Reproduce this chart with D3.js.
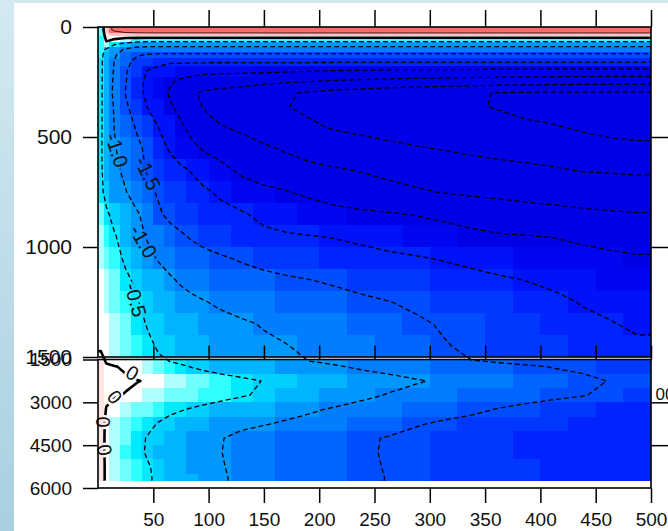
<!DOCTYPE html>
<html>
<head>
<meta charset="utf-8">
<script src="https://cdn.jsdelivr.net/npm/d3@7"></script>
<style>
body { margin: 0; background: #fff; }
svg { display: block; font-family: "Liberation Sans", Arial, sans-serif; }
</style>
</head>
<body>
<svg id="chart" width="668" height="531"></svg>
<script>
// grid of the section: cell edges along x and depth (m)
var xEdges = [0,5,10,20,30,40,50,60,70,80,90,100,120,140,160,180,200,225,250,275,300,325,350,375,400,425,450,475,500];
var depthEdges = [0,25,40,55,70,90,115,140,175,225,275,325,400,500,600,700,800,900,1000,1100,1200,1300,1400,1500,
                  2000,2500,3000,3500,4000,4500,5000,5500,5750];

// streamfunction per cell, one row per depth level
var psi = [
 [-0.3,0.3,0.6,0.8,0.85,0.88,0.9,0.9,0.9,0.9,0.9,0.9,0.9,0.92,0.92,0.92,0.92,0.92,0.92,0.92,0.92,0.92,0.92,0.92,0.92,0.92,0.92,0.92],
 [-0.3,0.18,0.28,0.33,0.35,0.35,0.35,0.35,0.35,0.35,0.35,0.35,0.35,0.35,0.35,0.35,0.35,0.35,0.35,0.35,0.35,0.35,0.35,0.35,0.35,0.35,0.35,0.35],
 [-0.35,0.1,0.05,0.04,0.05,0.05,0.05,0.05,0.05,0.05,0.05,0.05,0.05,0.05,0.05,0.05,0.05,0.05,0.05,0.05,0.05,0.05,0.05,0.05,0.05,0.05,0.05,0.05],
 [-0.4,0.02,-0.05,-0.2,-0.35,-0.4,-0.4,-0.4,-0.4,-0.4,-0.4,-0.4,-0.4,-0.4,-0.4,-0.4,-0.4,-0.4,-0.4,-0.4,-0.4,-0.4,-0.4,-0.4,-0.4,-0.4,-0.4,-0.4],
 [-0.4,-0.2,-0.5,-0.72,-0.85,-0.85,-0.85,-0.85,-0.85,-0.85,-0.85,-0.85,-0.85,-0.85,-0.85,-0.85,-0.85,-0.85,-0.85,-0.85,-0.85,-0.85,-0.85,-0.85,-0.85,-0.85,-0.85,-0.85],
 [-0.4,-0.55,-0.85,-1.05,-1.15,-1.2,-1.2,-1.2,-1.2,-1.2,-1.2,-1.2,-1.2,-1.2,-1.2,-1.2,-1.2,-1.2,-1.2,-1.2,-1.2,-1.2,-1.2,-1.2,-1.2,-1.2,-1.2,-1.2],
 [-0.4,-0.65,-0.95,-1.25,-1.45,-1.55,-1.6,-1.6,-1.6,-1.6,-1.6,-1.6,-1.6,-1.6,-1.6,-1.6,-1.6,-1.6,-1.6,-1.6,-1.6,-1.6,-1.6,-1.6,-1.6,-1.6,-1.6,-1.6],
 [-0.42,-0.7,-1.02,-1.35,-1.65,-1.8,-1.9,-1.95,-1.95,-1.95,-1.95,-1.95,-1.95,-1.95,-1.95,-1.95,-1.95,-1.95,-1.95,-1.95,-1.95,-1.95,-1.95,-1.95,-1.95,-1.95,-1.95,-1.95],
 [-0.42,-0.72,-1.05,-1.45,-1.8,-2.02,-2.1,-2.2,-2.25,-2.3,-2.35,-2.38,-2.4,-2.42,-2.45,-2.48,-2.52,-2.55,-2.58,-2.6,-2.6,-2.62,-2.63,-2.64,-2.65,-2.65,-2.65,-2.65],
 [-0.42,-0.74,-1.08,-1.48,-1.85,-2.1,-2.3,-2.45,-2.6,-2.72,-2.8,-2.85,-2.88,-2.92,-2.97,-3.02,-3.08,-3.12,-3.16,-3.2,-3.23,-3.26,-3.28,-3.3,-3.32,-3.34,-3.35,-3.35],
 [-0.42,-0.75,-1.1,-1.52,-1.85,-2.1,-2.3,-2.55,-2.75,-2.95,-3.05,-3.1,-3.15,-3.3,-3.45,-3.55,-3.65,-3.72,-3.8,-3.85,-3.9,-3.95,-4.02,-4.05,-4.06,-4.07,-4.08,-4.08],
 [-0.43,-0.72,-1.05,-1.42,-1.75,-2.02,-2.2,-2.45,-2.62,-2.85,-3.02,-3.2,-3.3,-3.4,-3.48,-3.6,-3.7,-3.78,-3.85,-3.9,-3.94,-3.97,-4.02,-4.1,-4.18,-4.25,-4.3,-4.35],
 [-0.44,-0.7,-1.02,-1.3,-1.55,-1.8,-2.02,-2.2,-2.45,-2.65,-2.8,-2.98,-3.08,-3.2,-3.3,-3.42,-3.55,-3.62,-3.7,-3.76,-3.82,-3.87,-3.91,-3.95,-3.98,-4.08,-4.2,-4.3],
 [-0.45,-0.7,-0.97,-1.2,-1.4,-1.6,-1.85,-2.05,-2.25,-2.4,-2.55,-2.7,-2.85,-2.95,-3.05,-3.15,-3.25,-3.33,-3.4,-3.47,-3.53,-3.6,-3.65,-3.7,-3.74,-3.78,-3.82,-3.85],
 [-0.45,-0.65,-0.9,-1.1,-1.3,-1.55,-1.7,-1.82,-1.93,-2.03,-2.15,-2.35,-2.6,-2.72,-2.82,-2.9,-2.96,-3.02,-3.1,-3.18,-3.25,-3.3,-3.36,-3.4,-3.46,-3.52,-3.54,-3.56],
 [-0.42,-0.6,-0.82,-0.98,-1.2,-1.4,-1.55,-1.68,-1.78,-1.86,-1.94,-2.05,-2.25,-2.4,-2.48,-2.58,-2.7,-2.8,-2.88,-2.95,-3.02,-3.08,-3.13,-3.17,-3.2,-3.24,-3.27,-3.3],
 [-0.3,-0.45,-0.6,-0.8,-0.95,-1.15,-1.45,-1.6,-1.7,-1.78,-1.84,-1.9,-1.96,-2.1,-2.2,-2.28,-2.36,-2.42,-2.47,-2.52,-2.58,-2.65,-2.72,-2.8,-2.86,-2.91,-2.95,-2.98],
 [-0.2,-0.35,-0.48,-0.62,-0.85,-1.05,-1.2,-1.35,-1.45,-1.55,-1.63,-1.75,-1.85,-1.92,-1.96,-1.99,-2.02,-2.08,-2.18,-2.27,-2.35,-2.42,-2.47,-2.49,-2.52,-2.6,-2.68,-2.75],
 [-0.15,-0.28,-0.4,-0.55,-0.72,-0.88,-1.05,-1.15,-1.25,-1.32,-1.38,-1.45,-1.55,-1.65,-1.72,-1.78,-1.83,-1.88,-1.92,-1.97,-2.03,-2.1,-2.17,-2.23,-2.29,-2.35,-2.4,-2.45],
 [-0.1,-0.2,-0.3,-0.45,-0.55,-0.68,-0.8,-0.95,-1.05,-1.12,-1.18,-1.25,-1.32,-1.38,-1.44,-1.49,-1.55,-1.62,-1.7,-1.77,-1.83,-1.89,-1.95,-2.01,-2.08,-2.15,-2.22,-2.3],
 [-0.05,-0.12,-0.22,-0.35,-0.48,-0.58,-0.68,-0.78,-0.86,-0.93,-0.98,-1.05,-1.12,-1.18,-1.24,-1.3,-1.36,-1.43,-1.49,-1.56,-1.63,-1.7,-1.77,-1.84,-1.92,-2.02,-2.08,-2.15],
 [-0.03,-0.08,-0.18,-0.3,-0.42,-0.52,-0.6,-0.68,-0.75,-0.8,-0.85,-0.9,-0.96,-1.02,-1.08,-1.13,-1.2,-1.28,-1.36,-1.45,-1.53,-1.6,-1.68,-1.76,-1.84,-1.92,-1.98,-2.05],
 [-0.01,-0.05,-0.14,-0.25,-0.35,-0.45,-0.53,-0.6,-0.66,-0.72,-0.77,-0.83,-0.9,-0.95,-0.99,-1.05,-1.12,-1.2,-1.28,-1.38,-1.48,-1.55,-1.62,-1.7,-1.77,-1.84,-1.9,-1.95],
 [0.12,0.03,0.01,-0.03,-0.1,-0.18,-0.27,-0.36,-0.44,-0.52,-0.58,-0.65,-0.72,-0.78,-0.84,-0.9,-0.96,-1.05,-1.12,-1.2,-1.27,-1.33,-1.4,-1.45,-1.52,-1.57,-1.64,-1.7],
 [0.12,0.05,0.04,0.03,0.01,-0.02,-0.07,-0.12,-0.18,-0.23,-0.28,-0.35,-0.43,-0.51,-0.58,-0.65,-0.73,-0.82,-0.89,-0.97,-1.05,-1.13,-1.2,-1.28,-1.35,-1.42,-1.51,-1.6],
 [0.12,0.04,0.02,-0.01,-0.06,-0.11,-0.16,-0.21,-0.26,-0.3,-0.34,-0.4,-0.47,-0.55,-0.64,-0.72,-0.82,-0.92,-1.02,-1.1,-1.17,-1.24,-1.3,-1.36,-1.42,-1.48,-1.58,-1.7],
 [0.12,-0.01,-0.08,-0.15,-0.22,-0.3,-0.37,-0.43,-0.48,-0.53,-0.57,-0.63,-0.72,-0.8,-0.88,-0.95,-1.03,-1.12,-1.2,-1.28,-1.35,-1.42,-1.52,-1.6,-1.68,-1.75,-1.82,-1.85],
 [0.12,-0.05,-0.15,-0.25,-0.35,-0.43,-0.52,-0.6,-0.66,-0.72,-0.78,-0.85,-0.93,-0.98,-1.04,-1.1,-1.18,-1.27,-1.37,-1.47,-1.55,-1.62,-1.7,-1.75,-1.8,-1.84,-1.87,-1.9],
 [0.12,-0.06,-0.18,-0.3,-0.42,-0.52,-0.6,-0.68,-0.75,-0.82,-0.9,-0.98,-1.08,-1.16,-1.24,-1.3,-1.37,-1.45,-1.52,-1.6,-1.68,-1.75,-1.8,-1.84,-1.87,-1.89,-1.9,-1.9],
 [0.12,-0.06,-0.19,-0.31,-0.43,-0.53,-0.61,-0.69,-0.76,-0.83,-0.9,-0.99,-1.08,-1.15,-1.22,-1.29,-1.37,-1.45,-1.53,-1.6,-1.67,-1.73,-1.78,-1.82,-1.85,-1.87,-1.88,-1.88],
 [0.12,-0.05,-0.16,-0.28,-0.39,-0.48,-0.56,-0.65,-0.73,-0.81,-0.88,-0.98,-1.06,-1.14,-1.22,-1.29,-1.37,-1.44,-1.52,-1.58,-1.64,-1.7,-1.75,-1.79,-1.82,-1.84,-1.85,-1.86],
 [0.12,-0.05,-0.15,-0.27,-0.38,-0.47,-0.55,-0.64,-0.72,-0.8,-0.87,-0.97,-1.05,-1.13,-1.21,-1.28,-1.36,-1.44,-1.51,-1.57,-1.63,-1.69,-1.74,-1.78,-1.81,-1.83,-1.84,-1.85]
];

// shading levels and their colours
var shadeLevels = [-2.4,-2.2,-2.0,-1.8,-1.6,-1.4,-1.2,-1.0,-0.8,-0.6,-0.5,-0.4,-0.3,-0.2,-0.1,0.1,0.2,0.4,0.6];
var shadeColors = ["#0000e6","#0006f0","#0012fc","#0024ff","#0038ff","#004eff","#0066ff","#007eff","#0098ff","#00b4ff",
                   "#00d0ff","#00eaff","#30ffff","#70ffff","#b0ffff","#ffffff","#ffe4e4","#ffc4c4","#ff9a9a","#ff6a6a"];

var contourLevels = [-4, -3.5, -3, -2.5, -2, -1.5, -1, -0.5, 0, 0.5];
var xTicks = [50,100,150,200,250,300,350,400,450,500];
var depthTicksTop = [0,500,1000,1500];
var depthTicksBottom = [1500,3000,4500,6000];

// contour labels (x, depth where they sit, angle of the line)
var contourLabels = [
  {text: "-1.0", x: 17, depth: 560, angle: 72},
  {text: "-1.5", x: 45, depth: 665, angle: 65},
  {text: "-1.0", x: 41, depth: 975, angle: 60},
  {text: "-0.5", x: 34, depth: 1240, angle: 75},
  {text: "0", x: 31, depth: 1975, angle: 30},
  {text: "0", x: 15, depth: 2810, angle: 50},
  {text: "0", x: 4.5, depth: 3690, angle: 90},
  {text: "0", x: 6, depth: 4670, angle: 80}
];

var svg = d3.select("#chart");
var defs = svg.append("defs");

// page background
var grad = defs.append("linearGradient").attr("id", "bg")
    .attr("x1", 0).attr("y1", 0).attr("x2", 0).attr("y2", 1);
grad.append("stop").attr("offset", "0%").attr("stop-color", "#d4e9f1");
grad.append("stop").attr("offset", "100%").attr("stop-color", "#a8d0e0");
svg.append("rect").attr("width", 668).attr("height", 531).attr("fill", "url(#bg)");
svg.append("rect").attr("x", 14).attr("y", 3).attr("width", 654).attr("height", 528).attr("fill", "#fff");

// scales: x, and two depth panels
var x = d3.scaleLinear().domain([0, 500]).range([98, 651]);
var yTop = d3.scaleLinear().domain([0, 1500]).range([27, 357]);
var yBot = d3.scaleLinear().domain([1500, 6000]).range([359.5, 488]);
function yDepth(d) { return d <= 1500 ? yTop(d) : yBot(d); }

var color = d3.scaleThreshold().domain(shadeLevels).range(shadeColors);

// shaded cells
var nx = xEdges.length - 1, ny = depthEdges.length - 1;
function rowY(r, k) {
    var s = depthEdges[r] < 1500 ? yTop : yBot;
    return s(depthEdges[r + k]);
}
var cells = [];
psi.forEach(function(row, r) {
    row.forEach(function(v, c) { cells.push({r: r, c: c, v: v}); });
});
svg.append("g").selectAll("rect").data(cells).join("rect")
    .attr("x", function(d) { return x(xEdges[d.c]); })
    .attr("width", function(d) { return x(xEdges[d.c + 1]) - x(xEdges[d.c]) + 0.4; })
    .attr("y", function(d) { return rowY(d.r, 0); })
    .attr("height", function(d) { return rowY(d.r, 1) - rowY(d.r, 0) + 0.4; })
    .attr("fill", function(d) { return color(d.v); })
    .attr("shape-rendering", "crispEdges");

// contours: pad the grid with its own edge values so lines run out to the frame,
// then map grid coords -> data coords
var padded = [];
for (var j = -1; j <= ny; j++) {
    var row = psi[Math.max(0, Math.min(ny - 1, j))];
    padded.push([row[0]].concat(row, [row[nx - 1]]));
}
var xCenters = d3.pairs(xEdges, function(a, b) { return (a + b) / 2; });
var dCenters = d3.pairs(depthEdges, function(a, b) { return (a + b) / 2; });
var uToX = d3.scaleLinear()
    .domain([0, 0.5].concat(xCenters.map(function(c, i) { return i + 1.5; }), [nx + 1.5, nx + 2]))
    .range([xEdges[0] - 30, xEdges[0]].concat(xCenters, [xEdges[nx], xEdges[nx] + 30]));
var wToD = d3.scaleLinear()
    .domain([0, 0.5].concat(dCenters.map(function(c, i) { return i + 1.5; }), [ny + 1.5, ny + 2]))
    .range([-100, depthEdges[0]].concat(dCenters, [depthEdges[ny], depthEdges[ny] + 150]));

var contours = d3.contours().size([nx + 2, ny + 2]).thresholds(contourLevels)(d3.merge(padded));

var line = d3.line()
    .x(function(p) { return x(uToX(p[0])); })
    .y(function(p) { return yDepth(wToD(p[1])); });

var paths = [];
contours.forEach(function(c) {
    c.coordinates.forEach(function(poly) {
        poly.forEach(function(ring) { paths.push({value: c.value, pts: ring}); });
    });
});

defs.append("clipPath").attr("id", "plotclip").append("rect")
    .attr("x", x(0)).attr("y", yTop(0))
    .attr("width", x(500) - x(0)).attr("height", yBot(depthEdges[ny]) - yTop(0));

// mask so contour lines break under their labels
var mask = defs.append("mask").attr("id", "lblmask")
    .attr("maskUnits", "userSpaceOnUse").attr("x", 0).attr("y", 0).attr("width", 668).attr("height", 531);
mask.append("rect").attr("width", 668).attr("height", 531).attr("fill", "#fff");
mask.selectAll("text").data(contourLabels).join("text")
    .attr("transform", function(d) { return "translate(" + x(d.x) + "," + yDepth(d.depth) + ") rotate(" + d.angle + ")"; })
    .attr("text-anchor", "middle").attr("dy", "0.35em")
    .attr("font-size", 20)
    .attr("fill", "#000").attr("stroke", "#000").attr("stroke-width", 5)
    .text(function(d) { return d.text; });

svg.append("g")
    .attr("clip-path", "url(#plotclip)")
    .append("g")
    .attr("mask", "url(#lblmask)")
    .selectAll("path").data(paths).join("path")
    .attr("d", function(d) { return line(d.pts); })
    .attr("fill", "none")
    .attr("stroke", "#000")
    .attr("stroke-linejoin", "round")
    .attr("stroke-width", function(d) { return d.value === 0 ? 2.6 : (d.value > 0 ? 0.8 : 1.3); })
    .attr("stroke-dasharray", function(d) { return d.value < 0 ? "5,3" : null; });

// contour labels
svg.append("g").selectAll("text").data(contourLabels).join("text")
    .attr("transform", function(d) { return "translate(" + x(d.x) + "," + yDepth(d.depth) + ") rotate(" + d.angle + ")"; })
    .attr("text-anchor", "middle").attr("dy", "0.35em")
    .attr("font-size", 20)
    .attr("fill", "#111")
    .text(function(d) { return d.text; });

// clipped label peeking out at the right edge
svg.append("text")
    .attr("x", x(504)).attr("y", yBot(2920))
    .attr("font-size", 17).attr("fill", "#111")
    .text("00");

// panel frames
svg.append("rect").attr("x", x(0)).attr("y", yTop(0)).attr("width", x(500) - x(0)).attr("height", yTop(1500) - yTop(0))
    .attr("fill", "none").attr("stroke", "#000").attr("stroke-width", 1.6);
svg.append("rect").attr("x", x(0)).attr("y", yBot(1500)).attr("width", x(500) - x(0)).attr("height", yBot(6000) - yBot(1500))
    .attr("fill", "none").attr("stroke", "#000").attr("stroke-width", 1.6);

function styleAxis(g, fs) {
    g.attr("font-family", null).attr("font-size", null);
    g.select(".domain").remove();
    g.selectAll(".tick line").attr("stroke", "#000").attr("stroke-width", 1.5);
    g.selectAll(".tick text").attr("font-size", fs).attr("fill", "#111");
}
var fmt = d3.format("d");

// top panel axes
svg.append("g").attr("transform", "translate(" + x(0) + ",0)")
    .call(d3.axisLeft(yTop).tickValues(depthTicksTop).tickFormat(fmt).tickSize(15).tickPadding(11))
    .call(styleAxis, 21);
svg.append("g").attr("transform", "translate(0," + yTop(0) + ")")
    .call(d3.axisTop(x).tickValues(xTicks).tickSize(17).tickFormat(""))
    .call(styleAxis, 19);
svg.append("g").attr("transform", "translate(" + x(500) + ",0)")
    .call(d3.axisRight(yTop).tickValues([500, 1000]).tickSize(17).tickFormat(""))
    .call(styleAxis, 19);

// bottom panel axes
svg.append("g").attr("transform", "translate(" + x(0) + ",0)")
    .call(d3.axisLeft(yBot).tickValues(depthTicksBottom).tickFormat(fmt).tickSize(15).tickPadding(11))
    .call(styleAxis, 19);
svg.append("g").attr("transform", "translate(0," + yBot(1500) + ")")
    .call(d3.axisTop(x).tickValues(xTicks).tickSize(14).tickFormat(""))
    .call(styleAxis, 19);
svg.append("g").attr("transform", "translate(0," + yBot(6000) + ")")
    .call(d3.axisBottom(x).tickValues(xTicks).tickFormat(fmt).tickSize(15).tickPadding(10))
    .call(styleAxis, 19);
svg.append("g").attr("transform", "translate(" + x(500) + ",0)")
    .call(d3.axisRight(yBot).tickValues([3000, 4500]).tickSize(17).tickFormat(""))
    .call(styleAxis, 19);
</script>
</body>
</html>
